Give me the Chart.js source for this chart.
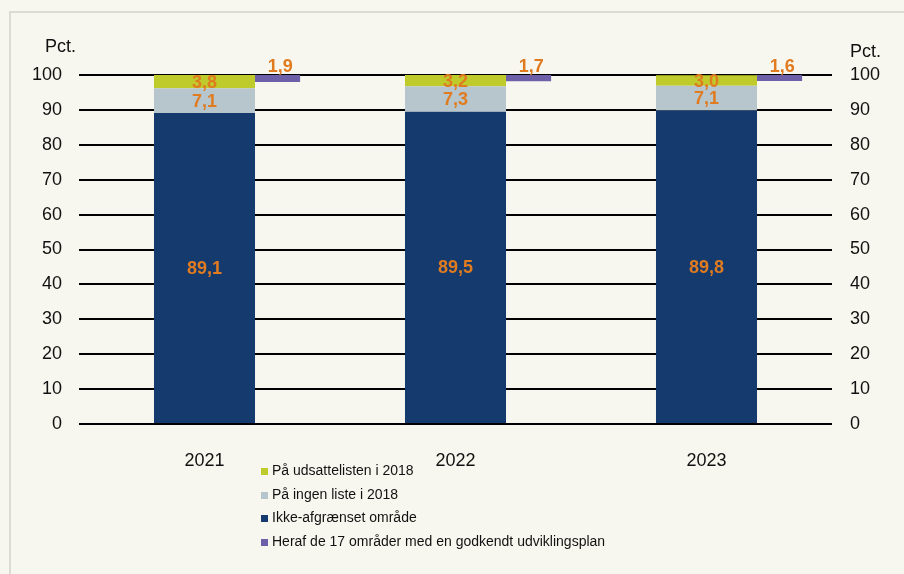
<!DOCTYPE html>
<html lang="da">
<head>
    <meta charset="UTF-8">
    <title>Andel af områder</title>
    <script src="https://cdn.jsdelivr.net/npm/chart.js"></script>
    <style>
        body { margin: 0; background: #f8f7ef; font-family: "Liberation Sans", Arial, sans-serif; }
        #wrap { position: relative; width: 904px; height: 574px; overflow: hidden; }
        #frame { position: absolute; left: 9px; top: 11px; width: 1000px; height: 1000px;
                 border-left: 2px solid #dcdbd6; border-top: 2px solid #dcdbd6; }
        #chart { position: absolute; left: 0; top: 0; }
        #legend { position: absolute; left: 261px; top: 459px; font-size: 14px; color: #111; }
        #legend div { height: 23.5px; line-height: 23.5px; white-space: nowrap; }
        #legend span { display: inline-block; width: 7px; height: 7px; margin-right: 4px; vertical-align: 0px; }
    </style>
</head>
<body>
<div id="wrap">
    <div id="frame"></div>
    <canvas id="chart" width="904" height="574"></canvas>
    <div id="legend"></div>
</div>

<script>
    // data (pct.)
    const years = ['2021', '2022', '2023'];
    const ikkeAfgraenset = [89.1, 89.5, 89.8];
    const ingenListe = [7.1, 7.3, 7.1];
    const udsatListe = [3.8, 3.2, 3.0];
    const herafUdvikling = [1.9, 1.7, 1.6];
    const yTicks = [0, 10, 20, 30, 40, 50, 60, 70, 80, 90, 100];

    const fontFamily = '"Liberation Sans", Arial, sans-serif';
    const labelColor = '#e07b20';
    const fmt = v => v.toFixed(1).replace('.', ',');

    // purple bar sits just to the right of each stack
    const herafOffset = 0.29;

    const datasets = [
        { label: 'Ikke-afgrænset område', data: ikkeAfgraenset, backgroundColor: '#143a6e' },
        { label: 'På ingen liste i 2018', data: ingenListe, backgroundColor: '#b7c6cc' },
        { label: 'På udsattelisten i 2018', data: udsatListe, backgroundColor: '#bfcb2b' },
        {
            label: 'Heraf de 17 områder med en godkendt udviklingsplan',
            data: herafUdvikling.map((v, i) => ({ x: i + herafOffset, y: [100 - v, 100] })),
            backgroundColor: '#6e60a8',
            xAxisID: 'x2',
            grouped: false,
            barThickness: 45,
            categoryPercentage: 1,
            barPercentage: 1,
            labelAbove: true,
            values: herafUdvikling
        }
    ];
    // main stack is centred on its year, not grouped with the purple bar
    datasets.slice(0, 3).forEach(ds => {
        ds.values = ds.data;
        ds.grouped = false;
        ds.categoryPercentage = 0.5;
        ds.barPercentage = 0.805;
    });

    // orange value labels on the bars
    const valueLabels = {
        id: 'valueLabels',
        afterDatasetsDraw(chart) {
            const ctx = chart.ctx;
            ctx.save();
            ctx.fillStyle = labelColor;
            ctx.font = 'bold 18px ' + fontFamily;
            ctx.textAlign = 'center';
            chart.data.datasets.forEach((ds, di) => {
                chart.getDatasetMeta(di).data.forEach((bar, i) => {
                    const p = bar.getProps(['x', 'y', 'base'], true);
                    if (ds.labelAbove) {
                        ctx.textBaseline = 'bottom';
                        ctx.fillText(fmt(ds.values[i]), p.x + 3, Math.min(p.y, p.base) + 1);
                    } else {
                        ctx.textBaseline = 'middle';
                        ctx.fillText(fmt(ds.values[i]), p.x, (p.y + p.base) / 2 + 1);
                    }
                });
            });
            ctx.restore();
        }
    };

    // "Pct." over both value axes
    const axisUnits = {
        id: 'axisUnits',
        afterDraw(chart) {
            const ctx = chart.ctx;
            const area = chart.chartArea;
            ctx.save();
            ctx.fillStyle = '#111';
            ctx.font = '18px ' + fontFamily;
            ctx.textBaseline = 'middle';
            ctx.textAlign = 'left';
            ctx.fillText('Pct.', area.left - 34, area.top - 28);
            ctx.fillText('Pct.', area.right + 18, area.top - 23);
            ctx.restore();
        }
    };

    const tickFont = { family: fontFamily, size: 18 };

    new Chart(document.getElementById('chart'), {
        type: 'bar',
        data: { labels: years, datasets: datasets },
        options: {
            responsive: false,
            animation: false,
            layout: { padding: { top: 75, left: 0, right: 0, bottom: 0 } },
            plugins: { legend: { display: false }, tooltip: { enabled: false } },
            scales: {
                x: {
                    stacked: true,
                    grid: { display: false },
                    border: { display: false },
                    ticks: { color: '#111', font: tickFont, padding: 18 },
                    afterFit: s => { s.height = 150; }
                },
                x2: {
                    type: 'linear',
                    display: false,
                    offset: false,
                    min: -0.5,
                    max: years.length - 0.5
                },
                y: {
                    stacked: true,
                    min: 0,
                    max: 100,
                    afterBuildTicks: s => { s.ticks = yTicks.map(v => ({ value: v })); },
                    grid: { color: '#000', lineWidth: 2, drawTicks: false },
                    border: { display: false },
                    ticks: { color: '#111', font: tickFont, padding: 17 },
                    afterFit: s => { s.width = 79; }
                },
                y2: {
                    position: 'right',
                    min: 0,
                    max: 100,
                    afterBuildTicks: s => { s.ticks = yTicks.map(v => ({ value: v })); },
                    grid: { display: false, drawTicks: false },
                    border: { display: false },
                    ticks: { color: '#111', font: tickFont, padding: 18 },
                    afterFit: s => { s.width = 72; }
                }
            }
        },
        plugins: [valueLabels, axisUnits]
    });

    // legend listed top-down as in the figure
    const legendOrder = [2, 1, 0, 3];
    document.getElementById('legend').innerHTML = legendOrder.map(i =>
        '<div><span style="background:' + datasets[i].backgroundColor + '"></span>' + datasets[i].label + '</div>'
    ).join('');
</script>
</body>
</html>
